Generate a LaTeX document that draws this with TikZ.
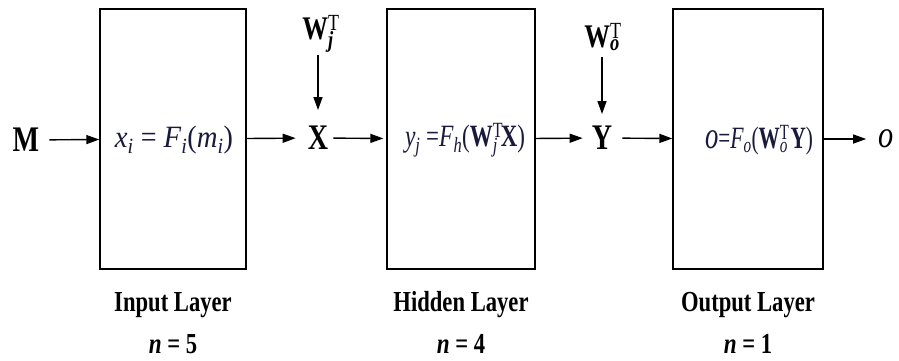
\documentclass[tikz,border=0pt]{standalone}
\usepackage{fontspec}
\usepackage{graphicx}
\setmainfont{Liberation Serif}[FakeStretch=0.78]
\newfontfamily\ffam{Liberation Serif Italic}[FakeStretch=0.8]
\newfontfamily\fbfam{Liberation Serif Bold Italic}[FakeStretch=0.8]
\usetikzlibrary{arrows.meta}
\definecolor{ink}{RGB}{25,25,60}
\newcommand\iv[1]{{\ffam #1}}
\newcommand\lo[1]{\textsubscript{\iv{#1}}}
\newcommand\supsub[2]{\makebox[0pt][l]{\textsuperscript{\rmfamily\mdseries T}}\textsubscript{\iv{#2}}\hspace{0.1em}}
\newcommand\fitw[2]{\resizebox{#1}{\height}{#2}}
\begin{document}
\begin{tikzpicture}[x=1pt,y=-1pt,
  box/.style={draw, line width=1.4pt, minimum height=260pt, inner sep=0pt},
  arr/.style={-{Triangle[length=13pt,width=9pt]}, line width=1.4pt},
  big/.style={font=\fontsize{36}{36}\selectfont\bfseries, inner sep=0pt},
  wt/.style={font=\fontsize{33}{33}\selectfont\bfseries, inner sep=0pt},
  form/.style={font=\fontsize{31}{31}\selectfont, text=ink, inner sep=0pt},
  lab/.style={font=\fontsize{29}{29}\selectfont\bfseries, inner sep=0pt}]
\useasboundingbox (0,0) rectangle (899,360);
% boxes
\node[box, minimum width=146pt] (b1) at (173,139) {};
\node[box, minimum width=148pt] (b2) at (461,139) {};
\node[box, minimum width=150pt] (b3) at (748,139) {};
% formulas
\node[form] (f1) at (174,140) {\fitw{118pt}{\iv{x}\lo{i} = \iv{F}\lo{i}(\iv{m}\lo{i})}};
\node[form] (f2) at (465,140) {\fitw{120pt}{\iv{y}\lo{j} =\iv{F}\lo{h}(\textbf{W}\supsub{T}{j}\textbf{X})}};
\node[form] (f3) at (759,140) {\fitw{108pt}{\iv{\fontsize{38}{38}\selectfont o}=\iv{F}\lo{o}(\textbf{W}\supsub{T}{o}\textbf{Y})}};
% signals
\node[big] (M) at (26,140) {M};
\node[big] (X) at (318,138) {X};
\node[big] (Y) at (602,138) {Y};
\node[font=\fontsize{38}{38}\selectfont, inner sep=0pt] (o) at (886,139) {\iv{o}};
\node[wt] (Wj) at (318,34) {W\supsub{T}{j}};
\node[wt] (Wo) at (602,37) {W\supsub{T}{o}};
% labels
\node[lab] (l1) at (173,305) {Input Layer};
\node[lab] (n1) at (173,344) {{\fbfam n} = 5};
\node[lab] (l2) at (461,305) {Hidden Layer};
\node[lab] (n2) at (461,344) {{\fbfam n} = 4};
\node[lab] (l3) at (748,305) {Output Layer};
\node[lab] (n3) at (748,344) {{\fbfam n} = 1};
% connectors
\draw[arr, shorten <=10pt] (M) -- (b1);
\draw[arr, shorten >=12pt] (b1) -- (X);
\draw[arr, shorten <=5pt, shorten >=3pt] (X) -- (b2);
\draw[arr, shorten >=9pt] (b2) -- (Y);
\draw[arr, shorten <=10pt] (Y) -- (b3);
\draw[arr, shorten >=12pt] (b3) -- (o);
\draw[arr, shorten <=3pt, shorten >=16pt] (Wj) -- (X);
\draw[arr, shorten <=6pt, shorten >=12pt] (Wo) -- (Y);
\end{tikzpicture}
\end{document}
